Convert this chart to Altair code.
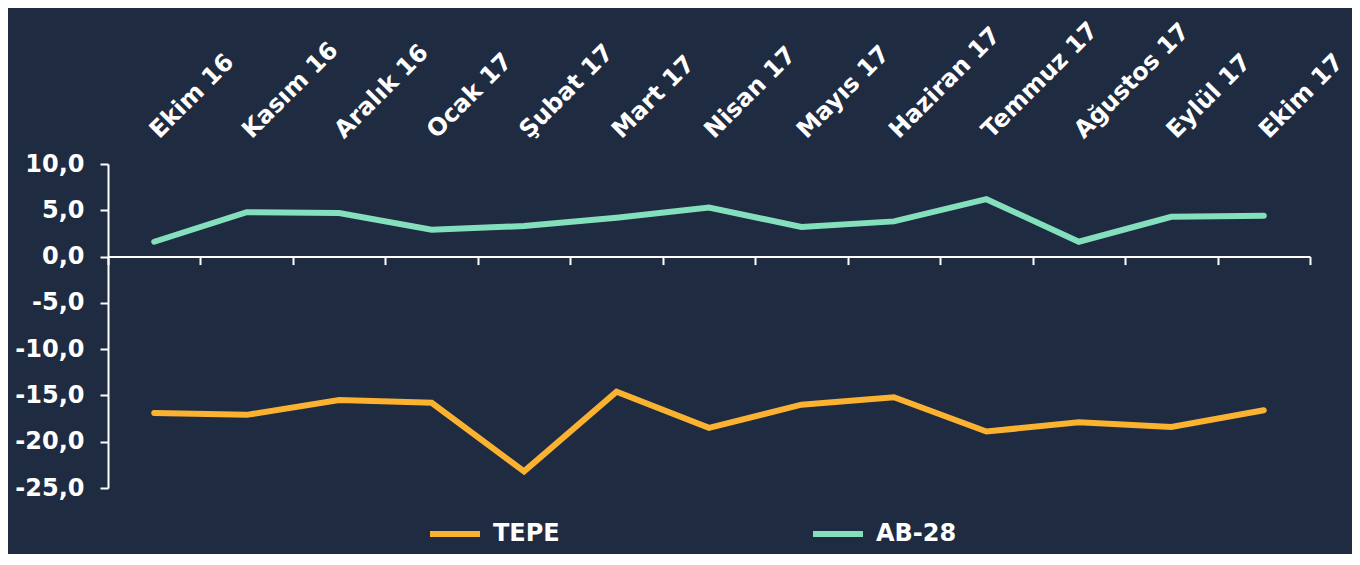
import altair as alt
import pandas as pd

months = ["Ekim 16", "Kasım 16", "Aralık 16", "Ocak 17", "Şubat 17", "Mart 17", "Nisan 17",
          "Mayıs 17", "Haziran 17", "Temmuz 17", "Ağustos 17", "Eylül 17", "Ekim 17"]
tepe = [-16.9, -17.1, -15.5, -15.8, -23.2, -14.6, -18.5, -16.0, -15.2, -18.9, -17.9, -18.4, -16.6]
ab28 = [1.6, 4.8, 4.7, 2.9, 3.3, 4.2, 5.3, 3.2, 3.8, 6.2, 1.6, 4.3, 4.4]
series = ["TEPE", "AB-28"]
colors = ["#fbb231", "#84dfbd"]
y_ticks = [10, 5, 0, -5, -10, -15, -20, -25]

rows = []
for m, v in zip(months, tepe):
    rows.append({"month": m, "series": "TEPE", "value": v})
for m, v in zip(months, ab28):
    rows.append({"month": m, "series": "AB-28", "value": v})
df = pd.DataFrame(rows)

BG = "#1f2b40"
FONT = "DejaVu Sans"
W, H = 1202, 324
y0 = H * 10 / 35.0

yscale = alt.Scale(domain=[-25, 10], nice=False, zero=False)
label_expr = "replace(replace(format(datum.value, '.1f'), '.', ','), '\u2212', '-')"

lines = alt.Chart(df).mark_line(strokeWidth=6, strokeCap="round", strokeJoin="miter").encode(
    x=alt.X("month:N", sort=months, title=None,
            axis=alt.Axis(orient="top", domain=False, ticks=False, labelAngle=-45,
                          labelAlign="left", labelBaseline="middle", labelPadding=30,
                          labelFont=FONT, labelFontWeight="bold", labelFontSize=24,
                          labelColor="white", grid=False)),
    y=alt.Y("value:Q", scale=yscale, title=None,
            axis=alt.Axis(values=y_ticks, labelExpr=label_expr, domainColor="white",
                          domainWidth=2, tickColor="white", tickWidth=2, tickSize=8,
                          labelFont=FONT, labelFontWeight="bold", labelFontSize=24,
                          labelColor="white", labelPadding=16, grid=False)),
    color=alt.Color("series:N", scale=alt.Scale(domain=series, range=colors),
                    legend=alt.Legend(title=None, orient="none", direction="horizontal",
                                      legendX=319, legendY=342, symbolType="stroke",
                                      symbolSize=2500, symbolStrokeWidth=6,
                                      labelFont=FONT, labelFontWeight="bold",
                                      labelFontSize=24, labelColor="white",
                                      labelOffset=10, columnPadding=241)),
)

axis_layer = alt.Chart(df).mark_line(opacity=0).encode(
    x=alt.X("month:N", sort=months, title=None,
            axis=alt.Axis(orient="bottom", offset=-(H - y0), labels=False, domain=True,
                          domainColor="white", domainWidth=2, ticks=True, tickColor="white",
                          tickWidth=2, tickSize=8, tickBand="extent", grid=False)),
    y=alt.Y("value:Q", scale=yscale),
    detail="series:N",
)

chart = alt.layer(lines, axis_layer).resolve_axis(x="independent").properties(
    width=W, height=H, background=BG,
    autosize=alt.AutoSizeParams(type="none"),
    padding={"left": 100, "top": 156, "right": 42, "bottom": 66},
).configure_view(stroke=None)

chart.save("out.html", embed_options={"renderer": "svg", "actions": False})
